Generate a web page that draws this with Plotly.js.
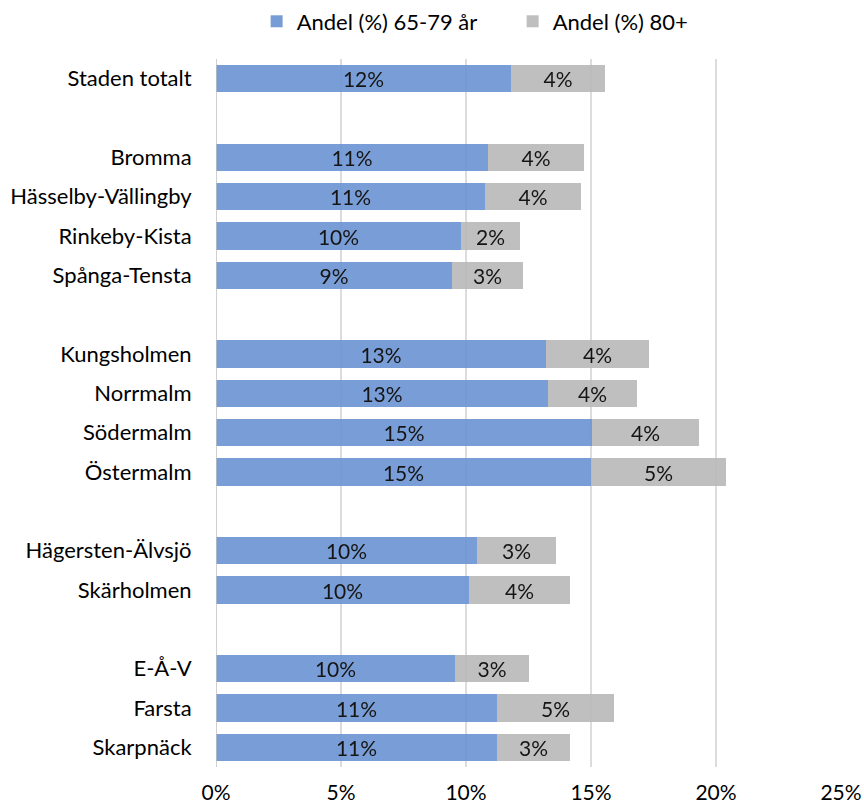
<!DOCTYPE html>
<html><head><meta charset="utf-8">
<script src="https://cdn.plot.ly/plotly-3.0.1.min.js"></script>
<style>body{margin:0;background:#fff}#c{width:864px;height:807px}</style>
</head><body><div id="c"></div>
<script>
const categories = ["Staden totalt", " ", "Bromma", "Hässelby-Vällingby", "Rinkeby-Kista", "Spånga-Tensta", "  ",
  "Kungsholmen", "Norrmalm", "Södermalm", "Östermalm", "   ", "Hägersten-Älvsjö", "Skärholmen", "    ",
  "E-Å-V", "Farsta", "Skarpnäck"];
const andel6579 = [11.8, null, 10.88, 10.76, 9.8, 9.44, null, 13.2, 13.28, 15.04, 15.0, null, 10.44, 10.12, null, 9.56, 11.24, 11.24];
const andel80 = [3.76, null, 3.84, 3.84, 2.36, 2.84, null, 4.12, 3.56, 4.28, 5.4, null, 3.16, 4.04, null, 2.96, 4.68, 2.92];
const seriesNames = ["Andel (%) 65-79 år", "Andel (%) 80+"];
const xTickVals = [0, 5, 10, 15, 20, 25];
const xTickText = ["0%", "5%", "10%", "15%", "20%", "25%"];

const FONT = "Lato, 'Open Sans', sans-serif";
function lab(v){ return v.map(x => x == null ? "" : Math.round(x) + "%"); }
const common = {type:"bar", orientation:"h", y:categories, textposition:"inside", insidetextanchor:"middle",
  textangle:0, constraintext:"none", textfont:{family:FONT, size:21, color:"#000"}, hoverinfo:"none", opacity:0.92};
const traces = [
  Object.assign({}, common, {name:seriesNames[0], x:andel6579, text:lab(andel6579), marker:{color:"#6d95d3"}}),
  Object.assign({}, common, {name:seriesNames[1], x:andel80, text:lab(andel80), marker:{color:"#bababa"}})
];
const layout = {
  width:864, height:807, barmode:"stack", bargap:0.31,
  margin:{l:216, r:23, t:59, b:40, autoexpand:false},
  paper_bgcolor:"#fff", plot_bgcolor:"#fff",
  font:{family:FONT, size:22, color:"#000"},
  showlegend:true,
  legend:{orientation:"h", x:0.065, xanchor:"left", y:1.053, yanchor:"middle", font:{size:22}, traceorder:"normal",
    itemwidth:30, entrywidth:211, entrywidthmode:"pixels"},
  xaxis:{range:[0,25], tickvals:xTickVals, ticktext:xTickText, showgrid:true, gridcolor:"#dcdcdc", gridwidth:1.5,
    zeroline:false, showline:false, ticks:"outside", ticklen:7, tickcolor:"rgba(0,0,0,0)", tickfont:{size:21}, fixedrange:true},
  yaxis:{autorange:"reversed", type:"category", showgrid:false, zeroline:false, showline:false, ticks:"outside", ticklen:19,
    tickcolor:"rgba(0,0,0,0)", tickfont:{size:22}, fixedrange:true},
  shapes:[{type:"line", xref:"x", yref:"paper", x0:0, x1:0, y0:0, y1:1, line:{color:"#bfbfbf", width:1.5}}]
};
Plotly.newPlot("c", traces, layout, {displayModeBar:false, staticPlot:true});
</script></body></html>
